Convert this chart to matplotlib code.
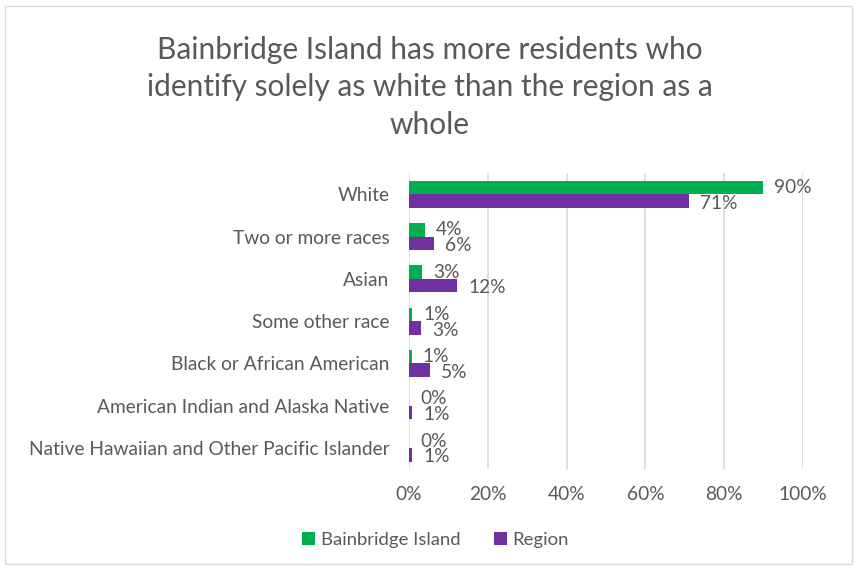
import matplotlib
matplotlib.use("Agg")
import matplotlib.pyplot as plt
import numpy as np
from matplotlib.patches import Rectangle

# --- Data ---
categories = [
    "White",
    "Two or more races",
    "Asian",
    "Some other race",
    "Black or African American",
    "American Indian and Alaska Native",
    "Native Hawaiian and Other Pacific Islander",
]
bainbridge = [89.8, 4.1, 3.3, 0.9, 0.7, 0.1, 0.1]
region = [71.1, 6.3, 12.2, 3.0, 5.3, 0.8, 0.8]
bainbridge_labels = ["90%", "4%", "3%", "1%", "1%", "0%", "0%"]
region_labels = ["71%", "6%", "12%", "3%", "5%", "1%", "1%"]
xticks = [0, 20, 40, 60, 80, 100]

title = ("Bainbridge Island has more residents who\n"
         "identify solely as white than the region as a\n"
         "whole")

# --- Style ---
green = "#00B050"
purple = "#7030A0"
text_color = "#595959"
grid_color = "#D9D9D9"
fs = 13.8
plt.rcParams['font.family'] = ['Lato', 'DejaVu Sans']

fig = plt.figure(figsize=(8.59, 5.70), dpi=100)
fig.patches.append(Rectangle((0.006, 0.01), 0.986, 0.98, transform=fig.transFigure,
                             fill=False, edgecolor="#D9D9D9", linewidth=1))

ax = fig.add_axes([0.476, 0.177, 0.459, 0.519])

y = np.arange(len(categories))
h = 0.32
ax.barh(y - h / 2, bainbridge, height=h, color=green, label="Bainbridge Island", zorder=3)
ax.barh(y + h / 2, region, height=h, color=purple, label="Region", zorder=3)

for yi, v, lab in zip(y, bainbridge, bainbridge_labels):
    ax.text(v + 2.8, yi - h / 2, lab, va="center", ha="left", fontsize=fs, color=text_color, zorder=4)
for yi, v, lab in zip(y, region, region_labels):
    ax.text(v + 2.8, yi + h / 2 + 0.05, lab, va="center", ha="left", fontsize=fs, color=text_color, zorder=4)

ax.set_ylim(len(categories) - 0.5, -0.5)
ax.set_xlim(0, 100)
ax.set_yticks(y)
ax.set_yticklabels(categories, fontsize=fs, color=text_color)
ax.set_xticks(xticks)
ax.set_xticklabels([f"{t}%" for t in xticks], fontsize=fs, color=text_color)
ax.tick_params(axis="y", length=0, pad=14)
ax.tick_params(axis="x", length=0, pad=12)
ax.xaxis.grid(True, color=grid_color, linewidth=1.2, zorder=0)
for s in ax.spines.values():
    s.set_visible(False)

fig.text(0.5, 0.847, title, ha="center", va="center", fontsize=21.5, color=text_color,
         linespacing=1.42)

fig.legend(loc="center", bbox_to_anchor=(0.507, 0.053), ncol=2, frameon=False,
           fontsize=13.3, labelcolor=text_color, handlelength=0.7, handleheight=0.7,
           handletextpad=0.3, columnspacing=1.8)

fig.savefig("out.png", dpi=100)
